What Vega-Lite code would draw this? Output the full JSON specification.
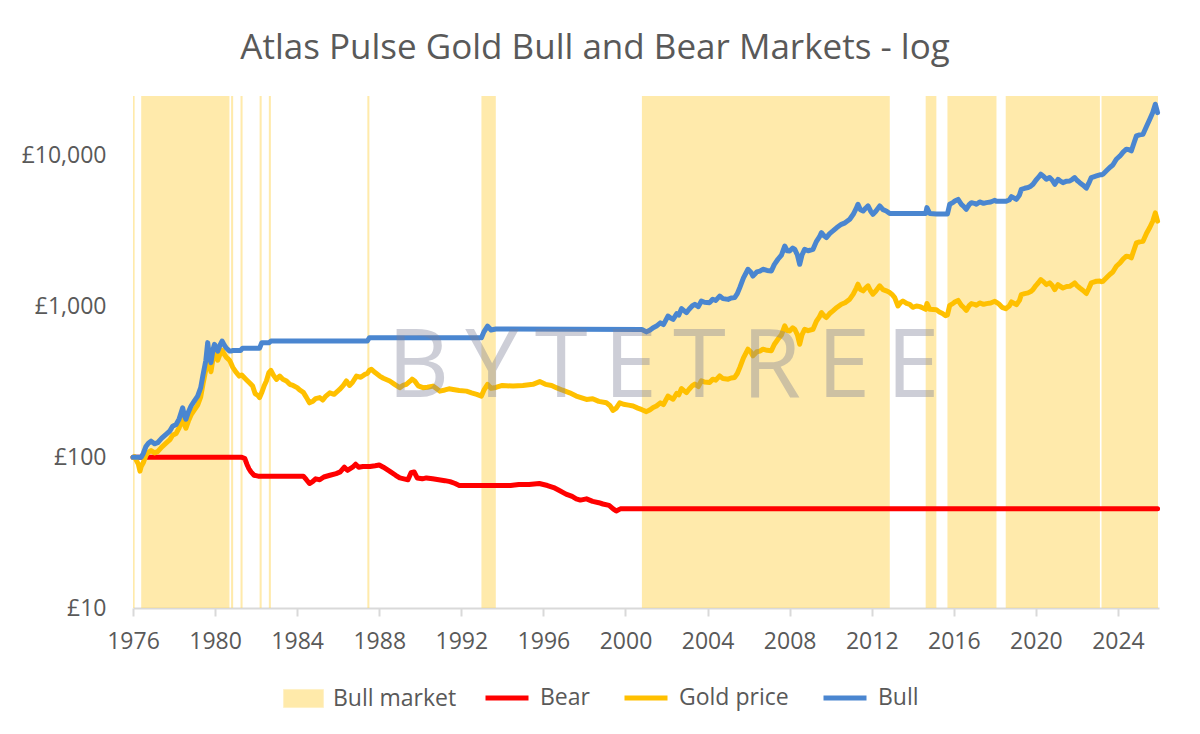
{
  "$schema": "https://vega.github.io/schema/vega-lite/v6.json",
  "width": 1026,
  "height": 512,
  "autosize": {"type": "none"},
  "padding": {"left": 133, "top": 96, "right": 41, "bottom": 126},
  "background": "white",
  "title": {
    "text": "Atlas Pulse Gold Bull and Bear Markets - log",
    "font": "Open Sans",
    "fontSize": 35,
    "fontWeight": "normal",
    "color": "#595959",
    "anchor": "middle",
    "dx": -51,
    "baseline": "alphabetic",
    "offset": 2
  },
  "datasets": {
    "bands": [
      {"start": 1976.0, "end": 1976.08},
      {"start": 1976.4, "end": 1980.7},
      {"start": 1980.78, "end": 1980.88},
      {"start": 1981.24, "end": 1981.34},
      {"start": 1982.17, "end": 1982.27},
      {"start": 1982.62, "end": 1982.72},
      {"start": 1987.42, "end": 1987.52},
      {"start": 1992.98, "end": 1993.68},
      {"start": 2000.8, "end": 2012.88},
      {"start": 2014.63, "end": 2015.15},
      {"start": 2015.69, "end": 2018.08},
      {"start": 2018.53, "end": 2023.12},
      {"start": 2023.2, "end": 2025.95}
    ],
    "bear": [
      {"t": 1976.0, "v": 100}, {"t": 1981.3, "v": 100}, {"t": 1981.45, "v": 98},
      {"t": 1981.55, "v": 90}, {"t": 1981.65, "v": 84}, {"t": 1981.75, "v": 80},
      {"t": 1981.9, "v": 76}, {"t": 1982.1, "v": 75}, {"t": 1984.3, "v": 75},
      {"t": 1984.45, "v": 71}, {"t": 1984.6, "v": 67}, {"t": 1984.75, "v": 69},
      {"t": 1984.9, "v": 72}, {"t": 1985.1, "v": 71}, {"t": 1985.3, "v": 74},
      {"t": 1985.6, "v": 76}, {"t": 1985.9, "v": 78}, {"t": 1986.1, "v": 80},
      {"t": 1986.3, "v": 86}, {"t": 1986.45, "v": 82}, {"t": 1986.7, "v": 86},
      {"t": 1986.85, "v": 90}, {"t": 1987.0, "v": 86}, {"t": 1987.2, "v": 87},
      {"t": 1987.55, "v": 87}, {"t": 1987.8, "v": 88}, {"t": 1988.0, "v": 89},
      {"t": 1988.2, "v": 86}, {"t": 1988.5, "v": 81}, {"t": 1988.8, "v": 76},
      {"t": 1989.0, "v": 73}, {"t": 1989.2, "v": 72}, {"t": 1989.4, "v": 71},
      {"t": 1989.55, "v": 79}, {"t": 1989.7, "v": 80}, {"t": 1989.85, "v": 73},
      {"t": 1990.1, "v": 72}, {"t": 1990.3, "v": 73}, {"t": 1990.6, "v": 72},
      {"t": 1990.9, "v": 71}, {"t": 1991.2, "v": 70}, {"t": 1991.45, "v": 69},
      {"t": 1991.7, "v": 67}, {"t": 1991.9, "v": 65}, {"t": 1994.4, "v": 65},
      {"t": 1994.8, "v": 66}, {"t": 1995.3, "v": 66}, {"t": 1995.8, "v": 67},
      {"t": 1996.2, "v": 65}, {"t": 1996.5, "v": 63}, {"t": 1996.8, "v": 60},
      {"t": 1997.1, "v": 57}, {"t": 1997.4, "v": 55}, {"t": 1997.6, "v": 53},
      {"t": 1997.8, "v": 52}, {"t": 1998.1, "v": 53}, {"t": 1998.4, "v": 51},
      {"t": 1998.7, "v": 50}, {"t": 1998.9, "v": 49}, {"t": 1999.2, "v": 48},
      {"t": 1999.4, "v": 45.5}, {"t": 1999.55, "v": 44}, {"t": 1999.75, "v": 45.5},
      {"t": 2025.93, "v": 45.5}
    ],
    "gold": [
      {"t": 1976.0, "v": 100}, {"t": 1976.08, "v": 101}, {"t": 1976.17, "v": 95},
      {"t": 1976.26, "v": 90}, {"t": 1976.34, "v": 81}, {"t": 1976.4, "v": 87},
      {"t": 1976.5, "v": 92}, {"t": 1976.63, "v": 103}, {"t": 1976.75, "v": 108},
      {"t": 1976.88, "v": 111}, {"t": 1977.05, "v": 107}, {"t": 1977.2, "v": 109},
      {"t": 1977.4, "v": 117}, {"t": 1977.61, "v": 124}, {"t": 1977.8, "v": 131},
      {"t": 1977.93, "v": 140}, {"t": 1978.1, "v": 144}, {"t": 1978.25, "v": 157},
      {"t": 1978.42, "v": 185}, {"t": 1978.5, "v": 165}, {"t": 1978.58, "v": 156},
      {"t": 1978.7, "v": 174}, {"t": 1978.83, "v": 191}, {"t": 1979.0, "v": 207},
      {"t": 1979.15, "v": 222}, {"t": 1979.3, "v": 252}, {"t": 1979.4, "v": 301},
      {"t": 1979.55, "v": 383}, {"t": 1979.64, "v": 502}, {"t": 1979.72, "v": 409},
      {"t": 1979.8, "v": 370}, {"t": 1979.9, "v": 452}, {"t": 1979.97, "v": 489},
      {"t": 1980.05, "v": 470}, {"t": 1980.13, "v": 441}, {"t": 1980.25, "v": 487},
      {"t": 1980.34, "v": 514}, {"t": 1980.45, "v": 483}, {"t": 1980.55, "v": 461},
      {"t": 1980.62, "v": 452}, {"t": 1980.7, "v": 441}, {"t": 1980.78, "v": 420},
      {"t": 1980.86, "v": 396}, {"t": 1981.0, "v": 370}, {"t": 1981.18, "v": 346},
      {"t": 1981.3, "v": 352}, {"t": 1981.51, "v": 329}, {"t": 1981.7, "v": 310},
      {"t": 1981.83, "v": 297}, {"t": 1981.95, "v": 265}, {"t": 1982.08, "v": 258},
      {"t": 1982.17, "v": 249}, {"t": 1982.27, "v": 268}, {"t": 1982.4, "v": 300},
      {"t": 1982.5, "v": 321}, {"t": 1982.62, "v": 365}, {"t": 1982.72, "v": 378},
      {"t": 1982.85, "v": 350}, {"t": 1982.99, "v": 329}, {"t": 1983.15, "v": 346},
      {"t": 1983.3, "v": 330}, {"t": 1983.48, "v": 321}, {"t": 1983.64, "v": 305},
      {"t": 1983.8, "v": 300}, {"t": 1984.0, "v": 290}, {"t": 1984.12, "v": 280},
      {"t": 1984.3, "v": 270}, {"t": 1984.45, "v": 250}, {"t": 1984.6, "v": 230},
      {"t": 1984.77, "v": 236}, {"t": 1984.9, "v": 245}, {"t": 1985.1, "v": 249},
      {"t": 1985.25, "v": 240}, {"t": 1985.4, "v": 255}, {"t": 1985.59, "v": 268},
      {"t": 1985.8, "v": 262}, {"t": 1986.07, "v": 282}, {"t": 1986.25, "v": 300},
      {"t": 1986.4, "v": 321}, {"t": 1986.55, "v": 300}, {"t": 1986.7, "v": 315},
      {"t": 1986.89, "v": 346}, {"t": 1987.1, "v": 340}, {"t": 1987.3, "v": 355},
      {"t": 1987.42, "v": 360}, {"t": 1987.52, "v": 378}, {"t": 1987.62, "v": 384},
      {"t": 1987.8, "v": 365}, {"t": 1988.02, "v": 346}, {"t": 1988.2, "v": 335},
      {"t": 1988.51, "v": 321}, {"t": 1988.75, "v": 305}, {"t": 1989.0, "v": 290},
      {"t": 1989.15, "v": 300}, {"t": 1989.32, "v": 305}, {"t": 1989.5, "v": 320},
      {"t": 1989.6, "v": 330}, {"t": 1989.73, "v": 321}, {"t": 1989.9, "v": 298},
      {"t": 1990.13, "v": 290}, {"t": 1990.35, "v": 292}, {"t": 1990.62, "v": 297},
      {"t": 1990.8, "v": 285}, {"t": 1990.95, "v": 275}, {"t": 1991.2, "v": 280},
      {"t": 1991.4, "v": 285}, {"t": 1991.6, "v": 282}, {"t": 1991.9, "v": 278},
      {"t": 1992.25, "v": 275}, {"t": 1992.5, "v": 268}, {"t": 1992.75, "v": 262},
      {"t": 1992.98, "v": 255}, {"t": 1993.1, "v": 279}, {"t": 1993.28, "v": 305},
      {"t": 1993.45, "v": 287}, {"t": 1993.68, "v": 291}, {"t": 1994.0, "v": 300},
      {"t": 1994.52, "v": 297}, {"t": 1995.0, "v": 300}, {"t": 1995.49, "v": 305},
      {"t": 1995.82, "v": 318}, {"t": 1996.1, "v": 305}, {"t": 1996.4, "v": 300},
      {"t": 1996.63, "v": 290}, {"t": 1996.9, "v": 280}, {"t": 1997.28, "v": 268},
      {"t": 1997.6, "v": 255}, {"t": 1998.1, "v": 242}, {"t": 1998.4, "v": 245},
      {"t": 1998.7, "v": 235}, {"t": 1999.07, "v": 230}, {"t": 1999.25, "v": 220},
      {"t": 1999.39, "v": 205}, {"t": 1999.55, "v": 212}, {"t": 1999.72, "v": 230},
      {"t": 1999.9, "v": 225}, {"t": 2000.15, "v": 222}, {"t": 2000.37, "v": 219},
      {"t": 2000.6, "v": 212}, {"t": 2000.8, "v": 207}, {"t": 2001.02, "v": 201},
      {"t": 2001.2, "v": 207}, {"t": 2001.35, "v": 214}, {"t": 2001.51, "v": 219},
      {"t": 2001.7, "v": 230}, {"t": 2001.85, "v": 224}, {"t": 2002.07, "v": 255},
      {"t": 2002.2, "v": 248}, {"t": 2002.32, "v": 243}, {"t": 2002.5, "v": 266},
      {"t": 2002.6, "v": 260}, {"t": 2002.73, "v": 286}, {"t": 2002.85, "v": 277},
      {"t": 2002.97, "v": 269}, {"t": 2003.1, "v": 283}, {"t": 2003.25, "v": 298},
      {"t": 2003.38, "v": 306}, {"t": 2003.55, "v": 295}, {"t": 2003.7, "v": 322},
      {"t": 2003.85, "v": 316}, {"t": 2004.1, "v": 314}, {"t": 2004.25, "v": 330},
      {"t": 2004.4, "v": 325}, {"t": 2004.59, "v": 347}, {"t": 2004.75, "v": 333},
      {"t": 2005.0, "v": 330}, {"t": 2005.15, "v": 336}, {"t": 2005.32, "v": 339},
      {"t": 2005.45, "v": 360}, {"t": 2005.57, "v": 394}, {"t": 2005.75, "v": 457},
      {"t": 2005.97, "v": 522}, {"t": 2006.1, "v": 502}, {"t": 2006.21, "v": 471},
      {"t": 2006.4, "v": 502}, {"t": 2006.55, "v": 507}, {"t": 2006.7, "v": 522},
      {"t": 2006.9, "v": 513}, {"t": 2007.11, "v": 509}, {"t": 2007.25, "v": 561},
      {"t": 2007.43, "v": 608}, {"t": 2007.6, "v": 649}, {"t": 2007.76, "v": 745},
      {"t": 2007.88, "v": 693}, {"t": 2008.0, "v": 690}, {"t": 2008.15, "v": 723},
      {"t": 2008.25, "v": 708}, {"t": 2008.38, "v": 649}, {"t": 2008.49, "v": 563},
      {"t": 2008.6, "v": 649}, {"t": 2008.73, "v": 708}, {"t": 2008.9, "v": 693},
      {"t": 2009.14, "v": 708}, {"t": 2009.3, "v": 797}, {"t": 2009.45, "v": 856},
      {"t": 2009.55, "v": 914}, {"t": 2009.68, "v": 870}, {"t": 2009.79, "v": 847},
      {"t": 2009.95, "v": 900}, {"t": 2010.11, "v": 938}, {"t": 2010.3, "v": 988},
      {"t": 2010.52, "v": 1038}, {"t": 2010.7, "v": 1062}, {"t": 2010.93, "v": 1121},
      {"t": 2011.1, "v": 1210}, {"t": 2011.25, "v": 1328}, {"t": 2011.33, "v": 1409},
      {"t": 2011.45, "v": 1298}, {"t": 2011.58, "v": 1273}, {"t": 2011.7, "v": 1328},
      {"t": 2011.82, "v": 1375}, {"t": 2011.95, "v": 1269}, {"t": 2012.06, "v": 1210},
      {"t": 2012.2, "v": 1269}, {"t": 2012.39, "v": 1375}, {"t": 2012.55, "v": 1298},
      {"t": 2012.71, "v": 1273}, {"t": 2012.88, "v": 1241}, {"t": 2013.0, "v": 1200},
      {"t": 2013.12, "v": 1148}, {"t": 2013.28, "v": 1010}, {"t": 2013.4, "v": 1060},
      {"t": 2013.52, "v": 1090}, {"t": 2013.7, "v": 1050}, {"t": 2013.85, "v": 1036},
      {"t": 2014.0, "v": 990}, {"t": 2014.18, "v": 1010}, {"t": 2014.35, "v": 1000},
      {"t": 2014.5, "v": 980}, {"t": 2014.63, "v": 960}, {"t": 2014.69, "v": 1050},
      {"t": 2014.83, "v": 960}, {"t": 2015.15, "v": 955}, {"t": 2015.3, "v": 920},
      {"t": 2015.45, "v": 900}, {"t": 2015.6, "v": 870}, {"t": 2015.69, "v": 880},
      {"t": 2015.8, "v": 1020}, {"t": 2015.95, "v": 1047}, {"t": 2016.05, "v": 1073},
      {"t": 2016.21, "v": 1100}, {"t": 2016.37, "v": 1020}, {"t": 2016.5, "v": 983},
      {"t": 2016.61, "v": 945}, {"t": 2016.75, "v": 1015}, {"t": 2016.86, "v": 1047},
      {"t": 2017.0, "v": 1036}, {"t": 2017.1, "v": 1021}, {"t": 2017.26, "v": 1058},
      {"t": 2017.45, "v": 1036}, {"t": 2017.59, "v": 1047}, {"t": 2017.8, "v": 1057},
      {"t": 2018.0, "v": 1085}, {"t": 2018.08, "v": 1068}, {"t": 2018.2, "v": 1040},
      {"t": 2018.35, "v": 990}, {"t": 2018.53, "v": 970}, {"t": 2018.7, "v": 1010},
      {"t": 2018.81, "v": 1074}, {"t": 2018.95, "v": 1050}, {"t": 2019.05, "v": 1030},
      {"t": 2019.2, "v": 1100}, {"t": 2019.29, "v": 1202}, {"t": 2019.45, "v": 1220},
      {"t": 2019.62, "v": 1234}, {"t": 2019.75, "v": 1260}, {"t": 2019.86, "v": 1298},
      {"t": 2020.0, "v": 1380}, {"t": 2020.12, "v": 1440}, {"t": 2020.24, "v": 1512},
      {"t": 2020.38, "v": 1460}, {"t": 2020.51, "v": 1400}, {"t": 2020.67, "v": 1438},
      {"t": 2020.8, "v": 1380}, {"t": 2020.92, "v": 1298}, {"t": 2021.08, "v": 1400},
      {"t": 2021.2, "v": 1360}, {"t": 2021.32, "v": 1330}, {"t": 2021.5, "v": 1360},
      {"t": 2021.65, "v": 1364}, {"t": 2021.78, "v": 1400}, {"t": 2021.89, "v": 1438},
      {"t": 2022.0, "v": 1380}, {"t": 2022.14, "v": 1330}, {"t": 2022.3, "v": 1280},
      {"t": 2022.46, "v": 1222}, {"t": 2022.58, "v": 1320}, {"t": 2022.7, "v": 1438},
      {"t": 2022.85, "v": 1460}, {"t": 2022.95, "v": 1474}, {"t": 2023.12, "v": 1480},
      {"t": 2023.2, "v": 1465}, {"t": 2023.27, "v": 1474}, {"t": 2023.45, "v": 1560},
      {"t": 2023.6, "v": 1634}, {"t": 2023.75, "v": 1697}, {"t": 2023.92, "v": 1854},
      {"t": 2024.1, "v": 1950}, {"t": 2024.25, "v": 2067}, {"t": 2024.41, "v": 2163},
      {"t": 2024.55, "v": 2145}, {"t": 2024.65, "v": 2106}, {"t": 2024.78, "v": 2379},
      {"t": 2024.9, "v": 2648}, {"t": 2025.05, "v": 2691}, {"t": 2025.22, "v": 2716},
      {"t": 2025.4, "v": 3081}, {"t": 2025.55, "v": 3350}, {"t": 2025.7, "v": 3705},
      {"t": 2025.82, "v": 4190}, {"t": 2025.93, "v": 3690}
    ],
    "bull": [
      {"t": 1976.0, "v": 100}, {"t": 1976.4, "v": 100}, {"t": 1976.5, "v": 106},
      {"t": 1976.63, "v": 118}, {"t": 1976.75, "v": 124}, {"t": 1976.88, "v": 128},
      {"t": 1977.05, "v": 123}, {"t": 1977.2, "v": 125}, {"t": 1977.4, "v": 134},
      {"t": 1977.61, "v": 142}, {"t": 1977.8, "v": 150}, {"t": 1977.93, "v": 161},
      {"t": 1978.1, "v": 165}, {"t": 1978.25, "v": 180}, {"t": 1978.42, "v": 213},
      {"t": 1978.5, "v": 190}, {"t": 1978.58, "v": 179}, {"t": 1978.7, "v": 200},
      {"t": 1978.83, "v": 219}, {"t": 1979.0, "v": 238}, {"t": 1979.15, "v": 255},
      {"t": 1979.3, "v": 290}, {"t": 1979.4, "v": 346}, {"t": 1979.55, "v": 440},
      {"t": 1979.64, "v": 577}, {"t": 1979.72, "v": 470}, {"t": 1979.8, "v": 425},
      {"t": 1979.9, "v": 520}, {"t": 1979.97, "v": 562}, {"t": 1980.05, "v": 540},
      {"t": 1980.13, "v": 507}, {"t": 1980.25, "v": 560}, {"t": 1980.34, "v": 591},
      {"t": 1980.45, "v": 555}, {"t": 1980.55, "v": 530}, {"t": 1980.62, "v": 520},
      {"t": 1980.7, "v": 507}, {"t": 1980.78, "v": 507}, {"t": 1980.88, "v": 512},
      {"t": 1981.24, "v": 512}, {"t": 1981.34, "v": 530}, {"t": 1982.17, "v": 530},
      {"t": 1982.27, "v": 575}, {"t": 1982.62, "v": 575}, {"t": 1982.72, "v": 591},
      {"t": 1987.42, "v": 591}, {"t": 1987.52, "v": 622}, {"t": 1992.98, "v": 622},
      {"t": 1993.1, "v": 680}, {"t": 1993.28, "v": 743}, {"t": 1993.45, "v": 700},
      {"t": 1993.68, "v": 710}, {"t": 2000.8, "v": 705}, {"t": 2001.02, "v": 680},
      {"t": 2001.2, "v": 700}, {"t": 2001.35, "v": 725}, {"t": 2001.51, "v": 743},
      {"t": 2001.7, "v": 780}, {"t": 2001.85, "v": 760}, {"t": 2002.07, "v": 866},
      {"t": 2002.2, "v": 840}, {"t": 2002.32, "v": 824}, {"t": 2002.5, "v": 900},
      {"t": 2002.6, "v": 880}, {"t": 2002.73, "v": 970}, {"t": 2002.85, "v": 940},
      {"t": 2002.97, "v": 912}, {"t": 2003.1, "v": 960}, {"t": 2003.25, "v": 1010},
      {"t": 2003.38, "v": 1036}, {"t": 2003.55, "v": 1000}, {"t": 2003.7, "v": 1090},
      {"t": 2003.85, "v": 1070}, {"t": 2004.1, "v": 1063}, {"t": 2004.25, "v": 1120},
      {"t": 2004.4, "v": 1100}, {"t": 2004.59, "v": 1175}, {"t": 2004.75, "v": 1130},
      {"t": 2005.0, "v": 1117}, {"t": 2005.15, "v": 1140}, {"t": 2005.32, "v": 1148},
      {"t": 2005.45, "v": 1220}, {"t": 2005.57, "v": 1337}, {"t": 2005.75, "v": 1550},
      {"t": 2005.97, "v": 1770}, {"t": 2006.1, "v": 1700}, {"t": 2006.21, "v": 1597},
      {"t": 2006.4, "v": 1700}, {"t": 2006.55, "v": 1720}, {"t": 2006.7, "v": 1770},
      {"t": 2006.9, "v": 1740}, {"t": 2007.11, "v": 1726}, {"t": 2007.25, "v": 1900},
      {"t": 2007.43, "v": 2062}, {"t": 2007.6, "v": 2200}, {"t": 2007.76, "v": 2525},
      {"t": 2007.88, "v": 2350}, {"t": 2008.0, "v": 2340}, {"t": 2008.15, "v": 2450},
      {"t": 2008.25, "v": 2400}, {"t": 2008.38, "v": 2200}, {"t": 2008.49, "v": 1910},
      {"t": 2008.6, "v": 2200}, {"t": 2008.73, "v": 2400}, {"t": 2008.9, "v": 2350},
      {"t": 2009.14, "v": 2400}, {"t": 2009.3, "v": 2700}, {"t": 2009.45, "v": 2900},
      {"t": 2009.55, "v": 3097}, {"t": 2009.68, "v": 2950}, {"t": 2009.79, "v": 2870},
      {"t": 2009.95, "v": 3050}, {"t": 2010.11, "v": 3180}, {"t": 2010.3, "v": 3350},
      {"t": 2010.52, "v": 3518}, {"t": 2010.7, "v": 3600}, {"t": 2010.93, "v": 3800},
      {"t": 2011.1, "v": 4100}, {"t": 2011.25, "v": 4500}, {"t": 2011.33, "v": 4776},
      {"t": 2011.45, "v": 4400}, {"t": 2011.58, "v": 4315}, {"t": 2011.7, "v": 4500},
      {"t": 2011.82, "v": 4660}, {"t": 2011.95, "v": 4300}, {"t": 2012.06, "v": 4100},
      {"t": 2012.2, "v": 4300}, {"t": 2012.39, "v": 4660}, {"t": 2012.55, "v": 4400},
      {"t": 2012.71, "v": 4315}, {"t": 2012.88, "v": 4150}, {"t": 2014.63, "v": 4150},
      {"t": 2014.69, "v": 4540}, {"t": 2014.83, "v": 4150}, {"t": 2015.15, "v": 4120},
      {"t": 2015.69, "v": 4120}, {"t": 2015.8, "v": 4776}, {"t": 2015.95, "v": 4900},
      {"t": 2016.05, "v": 5025}, {"t": 2016.21, "v": 5150}, {"t": 2016.37, "v": 4776},
      {"t": 2016.5, "v": 4600}, {"t": 2016.61, "v": 4426}, {"t": 2016.75, "v": 4750},
      {"t": 2016.86, "v": 4900}, {"t": 2017.0, "v": 4850}, {"t": 2017.1, "v": 4780},
      {"t": 2017.26, "v": 4955}, {"t": 2017.45, "v": 4850}, {"t": 2017.59, "v": 4900},
      {"t": 2017.8, "v": 4950}, {"t": 2018.0, "v": 5080}, {"t": 2018.08, "v": 5000},
      {"t": 2018.53, "v": 5000}, {"t": 2018.7, "v": 5100}, {"t": 2018.81, "v": 5370},
      {"t": 2018.95, "v": 5250}, {"t": 2019.05, "v": 5150}, {"t": 2019.2, "v": 5500},
      {"t": 2019.29, "v": 6010}, {"t": 2019.45, "v": 6100}, {"t": 2019.62, "v": 6170},
      {"t": 2019.75, "v": 6300}, {"t": 2019.86, "v": 6490}, {"t": 2020.0, "v": 6900},
      {"t": 2020.12, "v": 7200}, {"t": 2020.24, "v": 7560}, {"t": 2020.38, "v": 7300},
      {"t": 2020.51, "v": 7000}, {"t": 2020.67, "v": 7190}, {"t": 2020.8, "v": 6900},
      {"t": 2020.92, "v": 6490}, {"t": 2021.08, "v": 7000}, {"t": 2021.2, "v": 6800},
      {"t": 2021.32, "v": 6650}, {"t": 2021.5, "v": 6800}, {"t": 2021.65, "v": 6820},
      {"t": 2021.78, "v": 7000}, {"t": 2021.89, "v": 7190}, {"t": 2022.0, "v": 6900},
      {"t": 2022.14, "v": 6650}, {"t": 2022.3, "v": 6400}, {"t": 2022.46, "v": 6110},
      {"t": 2022.58, "v": 6600}, {"t": 2022.7, "v": 7190}, {"t": 2022.85, "v": 7300},
      {"t": 2022.95, "v": 7370}, {"t": 2023.12, "v": 7500}, {"t": 2023.2, "v": 7500},
      {"t": 2023.27, "v": 7560}, {"t": 2023.45, "v": 8000}, {"t": 2023.6, "v": 8380},
      {"t": 2023.75, "v": 8700}, {"t": 2023.92, "v": 9510}, {"t": 2024.1, "v": 10000},
      {"t": 2024.25, "v": 10600}, {"t": 2024.41, "v": 11090}, {"t": 2024.55, "v": 11000},
      {"t": 2024.65, "v": 10800}, {"t": 2024.78, "v": 12200}, {"t": 2024.9, "v": 13580},
      {"t": 2025.05, "v": 13800}, {"t": 2025.22, "v": 13930}, {"t": 2025.4, "v": 15800},
      {"t": 2025.55, "v": 17540}, {"t": 2025.7, "v": 19500}, {"t": 2025.82, "v": 22050},
      {"t": 2025.93, "v": 19400}
    ],
    "mark": [{"label": "B\u2009Y\u2009T\u2009E\u2009T\u2009R\u2009E\u2009E", "t": 2001.85, "v": 392}]
  },
  "layer": [
    {
      "data": {"name": "bands"},
      "mark": {"type": "rect", "opacity": 0.55},
      "encoding": {
        "x": {
          "field": "start",
          "type": "quantitative",
          "scale": {"domain": [1976, 2026], "nice": false, "zero": false},
          "axis": {
            "title": null,
            "values": [1976, 1980, 1984, 1988, 1992, 1996, 2000, 2004, 2008, 2012, 2016, 2020, 2024],
            "format": "d",
            "grid": false,
            "labelFont": "Open Sans",
            "labelFontSize": 23,
            "labelColor": "#595959",
            "labelPadding": 14,
            "labelFlush": false,
            "domainColor": "#d9d9d9",
            "domainWidth": 2,
            "tickColor": "#d9d9d9",
            "tickWidth": 2,
            "tickSize": 8
          }
        },
        "x2": {"field": "end"},
        "y": {
          "datum": 25000,
          "type": "quantitative",
          "scale": {"type": "log", "domain": [10, 25000], "nice": false},
          "axis": {
            "title": null,
            "values": [10, 100, 1000, 10000],
            "labelExpr": "'£' + format(datum.value, ',')",
            "labelFont": "Open Sans",
            "labelFontSize": 23,
            "labelColor": "#595959",
            "labelPadding": 27,
            "domain": false,
            "ticks": false,
            "gridColor": "#d9d9d9",
            "gridWidth": 1.5
          }
        },
        "y2": {"datum": 10},
        "fill": {
          "datum": "Bull market",
          "scale": {"domain": ["Bull market"], "range": ["#ffd966"]},
          "legend": {
            "title": null,
            "orient": "none",
            "direction": "horizontal",
            "legendX": 149,
            "legendY": 581,
            "symbolType": "M-0.95,-0.43H0.95V0.43H-0.95Z",
            "symbolSize": 1764,
            "symbolStrokeColor": "#ffe699",
            "symbolStrokeWidth": 1,
            "labelFont": "Open Sans",
            "labelFontSize": 23,
            "labelColor": "#595959",
            "labelOffset": 8
          }
        }
      }
    },
    {
      "data": {"name": "bear"},
      "mark": {"type": "line", "strokeWidth": 5, "strokeJoin": "round", "strokeCap": "round"},
      "encoding": {
        "x": {"field": "t", "type": "quantitative"},
        "y": {"field": "v", "type": "quantitative"},
        "stroke": {
          "datum": "Bear",
          "scale": {
            "domain": ["Bear", "Gold price", "Bull"],
            "range": ["#ff0000", "#ffc000", "#4a86d0"]
          },
          "legend": {
            "title": null,
            "orient": "none",
            "direction": "horizontal",
            "legendX": 350,
            "legendY": 578,
            "symbolType": "stroke",
            "symbolSize": 1849,
            "symbolStrokeWidth": 5,
            "labelFont": "Open Sans",
            "labelFontSize": 23,
            "labelColor": "#595959",
            "labelOffset": 9,
            "columnPadding": 24
          }
        }
      }
    },
    {
      "data": {"name": "gold"},
      "mark": {"type": "line", "strokeWidth": 5, "strokeJoin": "round", "strokeCap": "round"},
      "encoding": {
        "x": {"field": "t", "type": "quantitative"},
        "y": {"field": "v", "type": "quantitative"},
        "stroke": {"datum": "Gold price"}
      }
    },
    {
      "data": {"name": "bull"},
      "mark": {"type": "line", "strokeWidth": 5, "strokeJoin": "round", "strokeCap": "round"},
      "encoding": {
        "x": {"field": "t", "type": "quantitative"},
        "y": {"field": "v", "type": "quantitative"},
        "stroke": {"datum": "Bull"}
      }
    },
    {
      "data": {"name": "mark"},
      "mark": {"type": "text", "font": "Open Sans", "fontSize": 96, "fontWeight": "normal", "fill": "#7d8098", "opacity": 0.38, "align": "center", "baseline": "middle"},
      "encoding": {
        "x": {"field": "t", "type": "quantitative"},
        "y": {"field": "v", "type": "quantitative"},
        "text": {"field": "label"}
      }
    }
  ],
  "config": {
    "view": {"stroke": null},
    "font": "Open Sans"
  }
}
